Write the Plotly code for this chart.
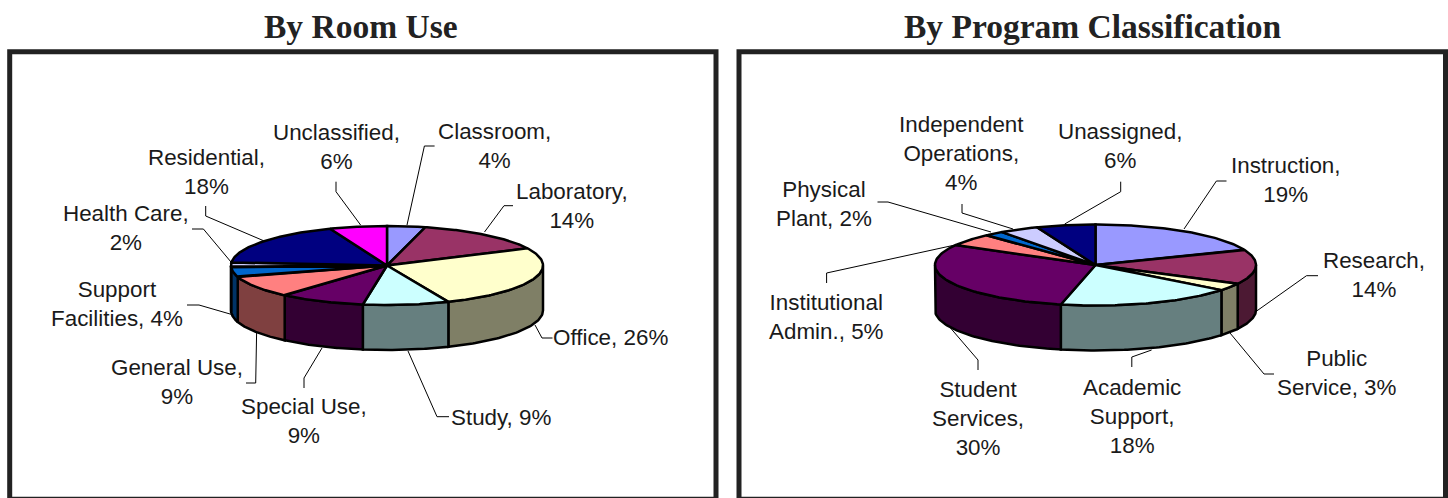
import numpy as np
import plotly.graph_objects as go

# ---- data ----
room_names = ["Classroom", "Laboratory", "Office", "Study", "Special Use", "General Use",
              "Support Facilities", "Health Care", "Residential", "Unclassified"]
room_values = [4, 14, 26, 9, 9, 9, 4, 2, 18, 6]
room_labels = ["Classroom,<br>4%", "Laboratory,<br>14%", "Office, 26%", "Study, 9%",
               "Special Use,<br>9%", "General Use,<br>9%", "Support<br>Facilities, 4%",
               "Health Care,<br>2%", "Residential,<br>18%", "Unclassified,<br>6%"]
room_colors = ["#9999FF", "#993366", "#FFFFCC", "#CCFFFF", "#660066", "#FF8080",
               "#0066CC", "#CCCCFF", "#000080", "#FF00FF"]

prog_names = ["Instruction", "Research", "Public Service", "Academic Support", "Student Services",
              "Institutional Admin.", "Physical Plant", "Independent Operations", "Unassigned"]
prog_values = [19, 14, 3, 18, 30, 5, 2, 4, 6]
prog_labels = ["Instruction,<br>19%", "Research,<br>14%", "Public<br>Service, 3%",
               "Academic<br>Support,<br>18%", "Student<br>Services,<br>30%",
               "Institutional<br>Admin., 5%", "Physical<br>Plant, 2%",
               "Independent<br>Operations,<br>4%", "Unassigned,<br>6%"]
prog_colors = ["#9999FF", "#993366", "#FFFFCC", "#CCFFFF", "#660066", "#FF8080",
               "#0066CC", "#CCCCFF", "#000080"]

# ---- layout of labels and leaders (page placement, not values) ----
room_label_xy = [(494, 146), (572, 206), (610, 337), (501, 417), (304, 421), (177, 382),
                 (117, 304), (126, 228), (206, 172), (336, 147)]
room_leaders = [[(407, 225), (424.4, 146), (434.6, 146)], [(484.5, 232), (504, 205.7), (513, 205.7)],
                [(535, 325), (542, 338), (552.5, 338)], [(408, 351), (437, 416.7), (449, 416.7)],
                [(322, 348), (304, 378), (304, 388)], [(256.6, 333), (255.7, 383), (246, 383)],
                [(233.5, 315), (199, 305), (187, 305)], [(231, 262), (203.4, 229), (192, 229)],
                [(263.5, 240.7), (205.7, 216), (205.7, 206)], [(360.6, 225), (336, 191.7), (336, 181.7)]]
prog_label_xy = [(1286, 180), (1374, 275), (1337, 373), (1132, 416), (978, 418), (826, 317),
                 (824, 204), (961, 153), (1120, 146)]
prog_leaders = [[(1184, 229), (1216.4, 181), (1226.5, 181)], [(1255.7, 311.7), (1306.5, 275.7), (1318, 275.7)],
                [(1230, 333), (1264, 374), (1274, 374)], [(1151.6, 350), (1131.8, 357), (1131.8, 367)],
                [(950.5, 328), (978, 360), (978, 370)], [(955, 245), (826.6, 273), (826.6, 283)],
                [(991, 232), (888, 202), (877.5, 202)], [(1013, 229), (962, 213), (962, 204)],
                [(1064.7, 224), (1120.7, 191.7), (1120.7, 181.7)]]

INK = "#000000"
TEXT = "#1a1a1a"
fig = go.Figure()


def darken(c):
    r, g, b = int(c[1:3], 16), int(c[3:5], 16), int(c[5:7], 16)
    return f"rgb({r // 2},{g // 2},{b // 2})"


def pie3d(names, values, colors, cx, cy, rx, ry, depth):
    v = np.asarray(values, float)
    edges = np.concatenate([[0], np.cumsum(v)]) / v.sum() * 2 * np.pi
    # walls, only for the part of each slice that faces the viewer
    for name, c, a, b in zip(names, colors, edges[:-1], edges[1:]):
        lo, hi = max(a, np.pi / 2), min(b, 3 * np.pi / 2)
        if hi <= lo:
            continue
        t = np.linspace(lo, hi, 60)
        x = cx + rx * np.sin(t)
        y = cy - ry * np.cos(t)
        fig.add_trace(go.Scatter(
            x=np.concatenate([x, x[::-1], x[:1]]),
            y=np.concatenate([y, y[::-1] + depth, y[:1]]),
            mode="lines", fill="toself", fillcolor=darken(c),
            line=dict(color=INK, width=2.5), name=name + " side",
            hoverinfo="skip", showlegend=False))
    # top faces
    for name, c, val, a, b in zip(names, colors, values, edges[:-1], edges[1:]):
        t = np.linspace(a, b, 80)
        x = np.concatenate([[cx], cx + rx * np.sin(t), [cx]])
        y = np.concatenate([[cy], cy - ry * np.cos(t), [cy]])
        fig.add_trace(go.Scatter(
            x=x, y=y, mode="lines", fill="toself", fillcolor=c,
            line=dict(color=INK, width=2.5), name=name,
            text=f"{name}: {val}%", hoverinfo="text", showlegend=False))


def labels(texts, xy, leaders):
    for t, (x, y), pts in zip(texts, xy, leaders):
        fig.add_annotation(x=x, y=y, text=t, showarrow=False, xanchor="center", yanchor="middle",
                           font=dict(family="Liberation Sans, Arial, sans-serif", size=22.4, color=TEXT))
        fig.add_trace(go.Scatter(x=[p[0] for p in pts], y=[p[1] for p in pts], mode="lines",
                                 line=dict(color=INK, width=1), hoverinfo="skip", showlegend=False))


pie3d(room_names, room_values, room_colors, 387, 265.5, 156, 39.5, 45)
pie3d(prog_names, prog_values, prog_colors, 1095.5, 265, 160.5, 40.5, 45)
labels(room_labels, room_label_xy, room_leaders)
labels(prog_labels, prog_label_xy, prog_leaders)

for title, x in [("By Room Use", 361), ("By Program Classification", 1093)]:
    fig.add_annotation(x=x, y=26, text=f"<b>{title}</b>", showarrow=False, xanchor="center", yanchor="middle",
                       font=dict(family="Liberation Serif, serif", size=33.5, color="#222222"))

for x0, x1 in [(9.7, 716), (739, 1445.5)]:
    fig.add_shape(type="rect", x0=x0, x1=x1, y0=51.8, y1=499.3, line=dict(color="#222222", width=5),
                  fillcolor="rgba(0,0,0,0)", layer="below")

fig.update_layout(
    width=1448, height=498, margin=dict(l=0, r=0, t=0, b=0),
    paper_bgcolor="white", plot_bgcolor="white", showlegend=False,
    xaxis=dict(range=[0, 1448], visible=False, fixedrange=True),
    yaxis=dict(range=[498, 0], visible=False, fixedrange=True),
)
fig.write_html("out.html", config=dict(displayModeBar=False),
               post_script="document.body.style.margin='0';document.documentElement.style.overflow='hidden';")
